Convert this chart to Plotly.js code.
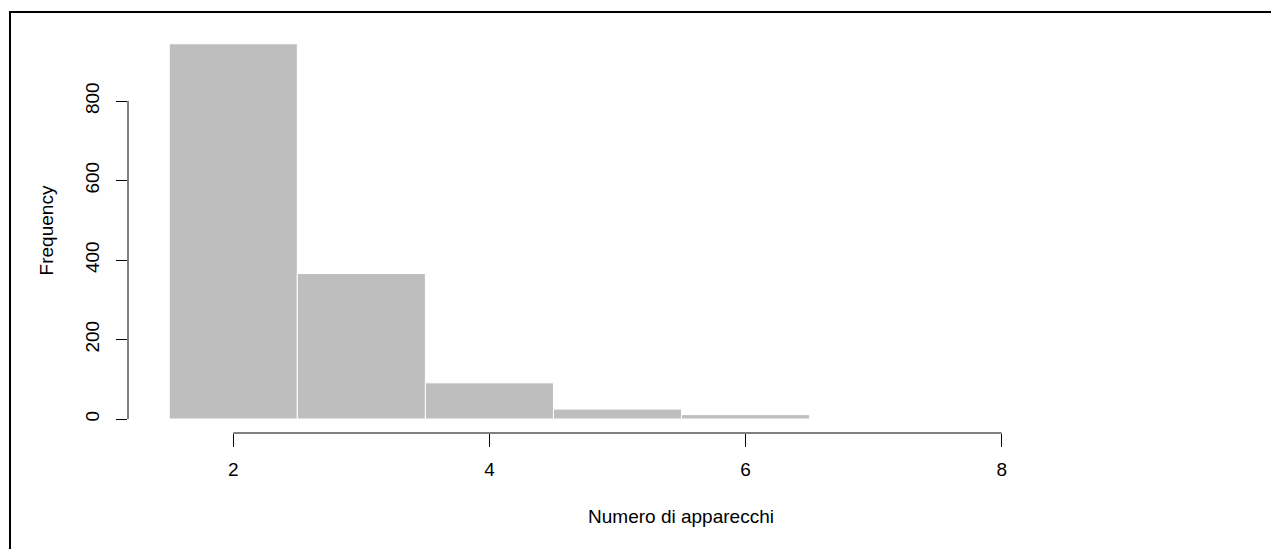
<!DOCTYPE html>
<html>
<head>
<meta charset="utf-8">
<script src="https://cdn.plot.ly/plotly-3.0.1.min.js"></script>
<style>
  html, body { margin: 0; padding: 0; background: #fff; }
  #chart { position: absolute; left: 0; top: 0; width: 1271px; height: 549px; }
  #frame { position: absolute; left: 9px; top: 11px; width: 1300px; height: 600px;
           border-left: 2px solid #000; border-top: 2px solid #000; pointer-events: none; z-index: 5; }
</style>
</head>
<body>
<div id="chart"></div>
<div id="frame"></div>
<script>
// Histogram of "Numero di apparecchi": bins of width 1 centred on 2..6
const binCenters = [2, 3, 4, 5, 6];
const counts = [944, 366, 91, 25, 11];
const xTicks = [2, 4, 6, 8];
const yTicks = [0, 200, 400, 600, 800];

const fontFam = '"Liberation Sans", Arial, Helvetica, sans-serif';

const trace = {
  type: 'bar',
  x: binCenters,
  y: counts,
  width: 1,
  marker: { color: '#BEBEBE', line: { color: '#FFFFFF', width: 1 } },
  hoverinfo: 'x+y'
};

const layout = {
  width: 1271,
  height: 549,
  margin: { l: 128, r: 37, t: 28, b: 116 },
  paper_bgcolor: '#fff',
  plot_bgcolor: '#fff',
  showlegend: false,
  font: { family: fontFam, size: 19, color: '#000' },
  xaxis: {
    range: [1.178, 9.814],
    tickvals: xTicks,
    ticktext: xTicks.map(String),
    ticks: 'outside',
    ticklen: 13,
    tickwidth: 1,
    tickcolor: '#000',
    showline: false,
    showgrid: false,
    zeroline: false,
    ticklabelstandoff: 6,
    tickfont: { family: fontFam, size: 19, color: '#000' },
    title: { text: 'Numero di apparecchi', font: { family: fontFam, size: 19, color: '#000' }, standoff: 30 }
  },
  yaxis: {
    range: [-35.2, 983.7],
    tickvals: yTicks,
    ticktext: yTicks.map(String),
    ticks: 'outside',
    ticklen: 11,
    tickwidth: 1,
    tickcolor: '#000',
    tickangle: -90,
    showline: false,
    showgrid: false,
    zeroline: false,
    ticklabelstandoff: 9,
    tickfont: { family: fontFam, size: 19, color: '#000' },
    title: { text: 'Frequency', font: { family: fontFam, size: 19, color: '#000' }, standoff: 23 }
  },
  shapes: [
    { type: 'line', xref: 'x', yref: 'paper', x0: xTicks[0], x1: xTicks[xTicks.length - 1], y0: 0, y1: 0,
      line: { color: '#000', width: 1 } },
    { type: 'line', xref: 'paper', yref: 'y', x0: 0, x1: 0, y0: yTicks[0], y1: yTicks[yTicks.length - 1],
      line: { color: '#000', width: 1 } }
  ]
};

Plotly.newPlot('chart', [trace], layout, { displayModeBar: false, staticPlot: true });
</script>
</body>
</html>
